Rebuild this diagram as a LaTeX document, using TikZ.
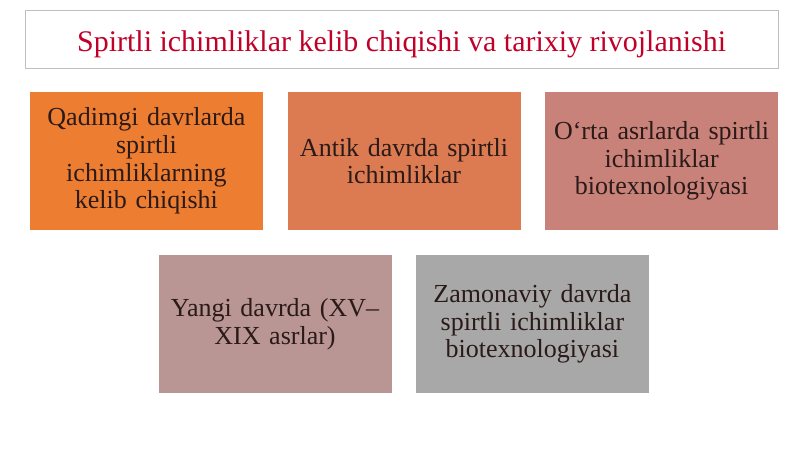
\documentclass[tikz,border=0pt]{standalone}
\usepackage{fontspec}
\setmainfont{Liberation Serif}
\definecolor{titlered}{HTML}{C00028}
\definecolor{boxA}{HTML}{ED7D31}
\definecolor{boxB}{HTML}{DC7B52}
\definecolor{boxC}{HTML}{C9827A}
\definecolor{boxD}{HTML}{B99593}
\definecolor{boxE}{HTML}{A8A8A8}
\definecolor{boxtext}{HTML}{2A1A18}

\begin{document}
\begin{tikzpicture}[
        title_box/.style={rectangle, draw=black!25, thick, fill=white, minimum width=18.825cm, minimum height=1.45cm, text centered, font=\fontsize{21.3}{25}\selectfont, text=titlered},
        era/.style={rectangle, minimum width=5.825cm, minimum height=3.45cm, inner xsep=0.1cm, text width=5.6cm, align=center, font=\fontsize{18.5}{19.6}\selectfont, text=boxtext}
    ]
        \useasboundingbox (0,0) rectangle (20,-11.225);

        % Title
        \node[title_box] (title) at (10.04,-0.99) {\raisebox{-8.5pt}[0pt][0pt]{Spirtli ichimliklar kelib chiqishi va tarixiy rivojlanishi}};

        % First row
        \node[era, fill=boxA] (ancient) at (3.66,-4.025) {Qadimgi davrlarda\\ spirtli\\ ichimliklarning\\ kelib chiqishi};
        \node[era, fill=boxB] (antique) at (10.1,-4.025) {Antik davrda spirtli\\ ichimliklar};
        \node[era, fill=boxC] (medieval) at (16.54,-4.025) {O‘rta asrlarda spirtli\\ ichimliklar\\ biotexnologiyasi};

        % Second row
        \node[era, fill=boxD] (newage) at (6.875,-8.1) {Yangi davrda (XV–\\ XIX asrlar)};
        \node[era, fill=boxE] (modern) at (13.31,-8.1) {Zamonaviy davrda\\ spirtli ichimliklar\\ biotexnologiyasi};

    \end{tikzpicture}
\end{document}
